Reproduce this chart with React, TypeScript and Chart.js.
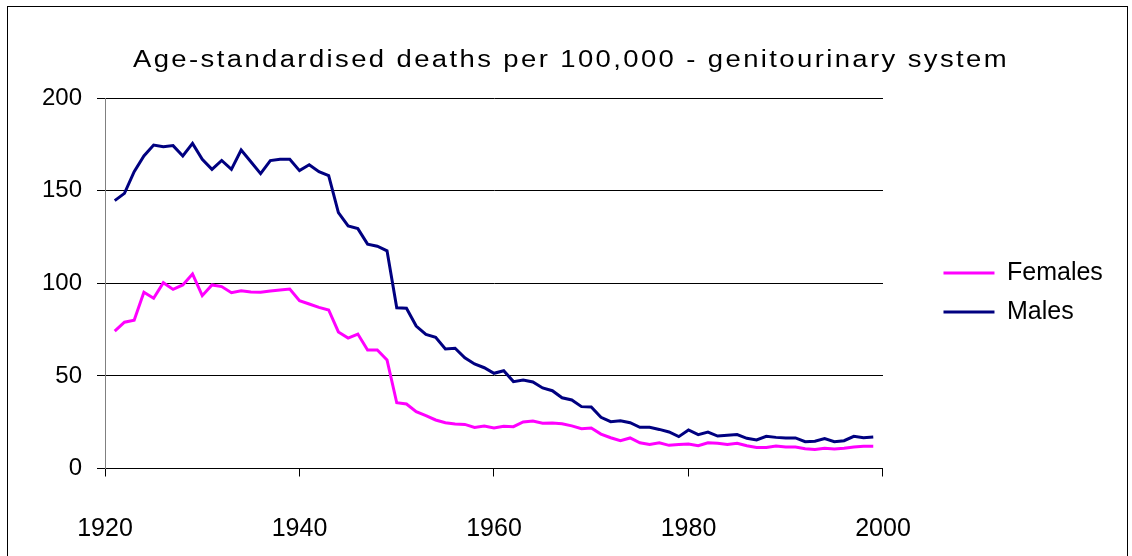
import React, { useEffect, useRef } from 'react';
import { Chart, registerables } from 'chart.js';

Chart.register(...registerables);

const TITLE = 'Age-standardised deaths per 100,000 - genitourinary system';

const YEARS = [
  1921, 1922, 1923, 1924, 1925, 1926, 1927, 1928, 1929, 1930,
  1931, 1932, 1933, 1934, 1935, 1936, 1937, 1938, 1939, 1940,
  1941, 1942, 1943, 1944, 1945, 1946, 1947, 1948, 1949, 1950,
  1951, 1952, 1953, 1954, 1955, 1956, 1957, 1958, 1959, 1960,
  1961, 1962, 1963, 1964, 1965, 1966, 1967, 1968, 1969, 1970,
  1971, 1972, 1973, 1974, 1975, 1976, 1977, 1978, 1979, 1980,
  1981, 1982, 1983, 1984, 1985, 1986, 1987, 1988, 1989, 1990,
  1991, 1992, 1993, 1994, 1995, 1996, 1997, 1998, 1999,
];

const FEMALES = [
  74.2, 79.0, 80.0, 95.1, 91.9, 100.3, 96.7, 99.1, 105.0, 93.3,
  99.1, 98.2, 94.9, 96.0, 95.3, 95.1, 95.8, 96.4, 96.9, 90.6,
  88.8, 87.0, 85.6, 73.7, 70.4, 72.6, 64.0, 64.0, 58.6, 35.5,
  34.8, 30.7, 28.5, 26.2, 24.7, 24.0, 23.8, 22.2, 22.9, 21.9,
  22.8, 22.6, 25.1, 25.6, 24.4, 24.5, 24.2, 23.0, 21.5, 21.9,
  18.6, 16.6, 15.0, 16.5, 13.9, 13.0, 13.9, 12.5, 12.9, 13.2,
  12.3, 13.9, 13.6, 12.9, 13.6, 12.3, 11.4, 11.4, 12.1, 11.6,
  11.6, 10.7, 10.3, 10.9, 10.5, 10.9, 11.6, 12.0, 12.0,
];

const MALES = [
  144.6, 148.5, 160.2, 168.7, 174.6, 173.7, 174.3, 168.7, 175.5, 166.9,
  161.5, 166.3, 161.5, 171.9, 165.6, 159.2, 166.2, 166.9, 166.9, 160.8,
  164.0, 160.2, 158.1, 138.1, 130.9, 129.5, 121.1, 120.0, 117.5, 86.8,
  86.5, 76.9, 72.4, 70.8, 64.5, 64.9, 59.8, 56.4, 54.4, 51.4,
  52.8, 46.9, 47.8, 46.7, 43.5, 42.0, 38.2, 37.0, 33.4, 33.2,
  27.6, 25.3, 25.8, 24.7, 22.2, 22.2, 21.1, 19.7, 17.2, 20.8,
  18.3, 19.7, 17.5, 17.9, 18.3, 16.3, 15.4, 17.4, 16.8, 16.5,
  16.5, 14.5, 14.7, 16.1, 14.5, 15.0, 17.4, 16.6, 17.0,
];

const SERIES_NAMES = ['Females', 'Males'];
const SERIES_COLORS = ['#FF00FF', '#000080'];

const X_TICKS = [1920, 1940, 1960, 1980, 2000];
const Y_TICKS = [0, 50, 100, 150, 200];

const FONT = '"Liberation Sans", Arial, Helvetica, sans-serif';

const CANVAS_W = 1119;
const CANVAS_H = 549;

const titlePlugin = {
  id: 'stretchedTitle',
  afterDraw(chart: any) {
    const ctx = chart.ctx as CanvasRenderingContext2D;
    ctx.save();
    ctx.font = `23px ${FONT}`;
    ctx.fillStyle = '#000';
    ctx.textAlign = 'center';
    ctx.textBaseline = 'alphabetic';
    (ctx as any).letterSpacing = '2px';
    const natural = ctx.measureText(TITLE).width;
    const sx = 876 / natural;
    ctx.translate(563, 59.5);
    ctx.scale(sx, 1);
    ctx.fillText(TITLE, 0, 0);
    ctx.restore();
  },
};

export default function App() {
  const canvasRef = useRef<HTMLCanvasElement | null>(null);

  useEffect(() => {
    if (!canvasRef.current) return;
    const seriesValues = [FEMALES, MALES];
    const chart = new Chart(canvasRef.current, {
      type: 'line',
      data: {
        datasets: SERIES_NAMES.map((name, si) => ({
          label: name,
          data: seriesValues[si].map((v, i) => ({ x: YEARS[i], y: v })),
          borderColor: SERIES_COLORS[si],
          backgroundColor: SERIES_COLORS[si],
          borderWidth: 3,
          pointRadius: 0,
          pointHoverRadius: 0,
          tension: 0,
          fill: false,
        })),
      },
      options: {
        responsive: false,
        animation: false,
        devicePixelRatio: 1,
        events: [],
        layout: { padding: { top: 91, left: 0, right: 14.15, bottom: 0 } },
        plugins: {
          title: { display: false },
          tooltip: { enabled: false },
          legend: {
            display: true,
            position: 'right',
            align: 'center',
            fullSize: false,
            title: {
              display: true,
              text: ' ',
              font: { size: 1 },
              padding: { top: 17.3, bottom: 0 },
            },
            labels: {
              boxWidth: 51,
              boxHeight: 3,
              padding: 14,
              color: '#000',
              font: { family: FONT, size: 25 },
              generateLabels: (chart: any) =>
                (Chart.defaults.plugins.legend.labels.generateLabels as any)(chart).map((l: any) => ({
                  ...l,
                  fillStyle: l.strokeStyle,
                  lineWidth: 0,
                })),
            },
          },
        },
        scales: {
          x: {
            type: 'linear',
            min: X_TICKS[0],
            max: X_TICKS[X_TICKS.length - 1],
            afterBuildTicks: (s: any) => {
              s.ticks = X_TICKS.map((v) => ({ value: v }));
            },
            afterFit: (s: any) => {
              s.height = 87.5;
            },
            grid: {
              drawOnChartArea: false,
              drawTicks: true,
              tickLength: 8,
              color: '#000',
              lineWidth: 1,
            },
            border: { color: '#000', width: 1 },
            ticks: {
              autoSkip: false,
              maxRotation: 0,
              padding: 38,
              color: '#000',
              font: { family: FONT, size: 25 },
              callback: (v: any) => String(v),
            },
          },
          y: {
            type: 'linear',
            min: Y_TICKS[0],
            max: Y_TICKS[Y_TICKS.length - 1],
            afterBuildTicks: (s: any) => {
              s.ticks = Y_TICKS.map((v) => ({ value: v }));
            },
            afterFit: (s: any) => {
              s.width = 97;
            },
            grid: {
              color: '#000',
              lineWidth: 1,
              drawTicks: true,
              tickLength: 8,
              tickColor: '#000',
            },
            border: { color: '#808080', width: 1 },
            ticks: {
              padding: 15,
              color: '#000',
              font: { family: FONT, size: 24 },
              callback: (v: any) => String(v),
            },
          },
          gap: {
            type: 'linear',
            position: 'right',
            display: true,
            grid: { display: false },
            border: { display: false },
            ticks: { display: false },
            afterFit: (s: any) => {
              s.width = 46.5;
            },
          },
        },
      } as any,
      plugins: [titlePlugin],
    });
    return () => chart.destroy();
  }, []);

  return (
    <div
      style={{
        position: 'absolute',
        left: 7,
        top: 6,
        width: 1121,
        height: 550,
        boxSizing: 'border-box',
        borderTop: '1px solid #000',
        borderLeft: '1px solid #000',
        borderRight: '1px solid #000',
        borderBottom: 'none',
        background: '#fff',
        overflow: 'hidden',
      }}
    >
      <canvas
        ref={canvasRef}
        width={CANVAS_W}
        height={CANVAS_H}
        style={{ display: 'block', width: CANVAS_W, height: CANVAS_H }}
      />
    </div>
  );
}
